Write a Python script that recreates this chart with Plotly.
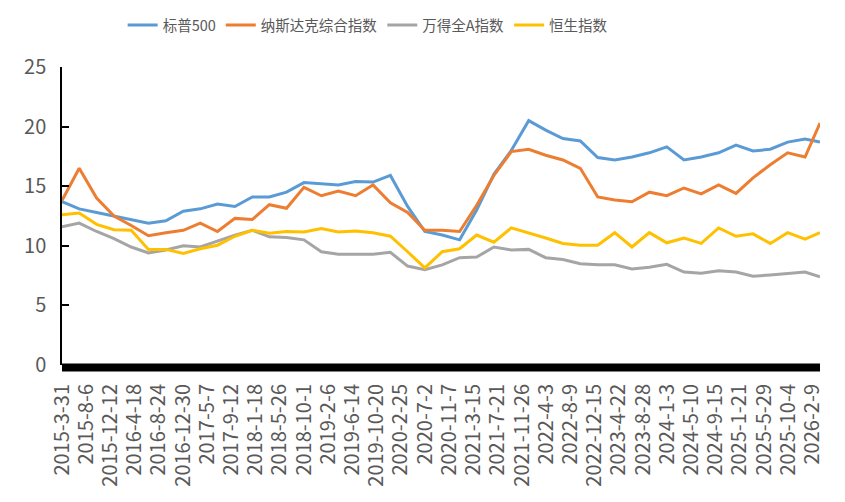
import plotly.graph_objects as go
import pandas as pd

dates = ["2015-03-31", "2015-06-30", "2015-09-30", "2015-12-31", "2016-03-31", "2016-06-30",
         "2016-09-30", "2016-12-31", "2017-03-31", "2017-06-30", "2017-09-30", "2017-12-31",
         "2018-03-31", "2018-06-30", "2018-09-30", "2018-12-31", "2019-03-31", "2019-06-30",
         "2019-09-30", "2019-12-31", "2020-03-31", "2020-06-30", "2020-09-30", "2020-12-31",
         "2021-03-31", "2021-06-30", "2021-09-30", "2021-12-31", "2022-03-31", "2022-06-30",
         "2022-09-30", "2022-12-31", "2023-03-31", "2023-06-30", "2023-09-30", "2023-12-31",
         "2024-03-31", "2024-06-30", "2024-09-30", "2024-12-31", "2025-03-31", "2025-06-30",
         "2025-09-30", "2025-12-31", "2026-03-20"]

sp500 = [13.7, 13.1, 12.8, 12.5, 12.2, 11.9, 12.1, 12.9, 13.1, 13.5, 13.3, 14.1,
         14.1, 14.5, 15.3, 15.2, 15.1, 15.4, 15.35, 15.9, 13.3, 11.2, 10.9, 10.5,
         13.0, 16.0, 18.0, 20.5, 19.7, 19.0, 18.8, 17.4, 17.2, 17.45, 17.8, 18.3,
         17.2, 17.45, 17.8, 18.45, 17.95, 18.1, 18.7, 18.95, 18.7]

nasdaq = [13.8, 16.5, 14.0, 12.5, 11.7, 10.85, 11.1, 11.3, 11.9, 11.2, 12.3, 12.2,
          13.45, 13.15, 14.9, 14.2, 14.6, 14.2, 15.1, 13.6, 12.8, 11.3, 11.3, 11.2,
          13.4, 15.9, 17.9, 18.1, 17.6, 17.2, 16.5, 14.1, 13.85, 13.7, 14.5, 14.2,
          14.85, 14.35, 15.1, 14.4, 15.7, 16.8, 17.8, 17.45, 20.3]

wind_a = [11.6, 11.9, 11.2, 10.6, 9.9, 9.4, 9.65, 10.0, 9.9, 10.4, 10.9, 11.3,
          10.75, 10.7, 10.5, 9.5, 9.3, 9.3, 9.3, 9.45, 8.3, 8.0, 8.4, 9.0,
          9.05, 9.9, 9.65, 9.7, 9.0, 8.85, 8.5, 8.4, 8.4, 8.05, 8.2, 8.45,
          7.8, 7.7, 7.9, 7.8, 7.45, 7.55, 7.7, 7.8, 7.4]

hsi = [12.6, 12.75, 11.8, 11.35, 11.3, 9.7, 9.7, 9.35, 9.75, 10.05, 10.8, 11.3,
       11.05, 11.2, 11.15, 11.45, 11.15, 11.25, 11.1, 10.8, 9.5, 8.15, 9.5, 9.75,
       10.9, 10.3, 11.5, 11.1, 10.65, 10.2, 10.05, 10.05, 11.1, 9.9, 11.1, 10.25,
       10.65, 10.2, 11.5, 10.8, 11.0, 10.2, 11.1, 10.55, 11.1]

tick_labels = ["2015-3-31", "2015-8-6", "2015-12-12", "2016-4-18", "2016-8-24", "2016-12-30",
               "2017-5-7", "2017-9-12", "2018-1-18", "2018-5-26", "2018-10-1", "2019-2-6",
               "2019-6-14", "2019-10-20", "2020-2-25", "2020-7-2", "2020-11-7", "2021-3-15",
               "2021-7-21", "2021-11-26", "2022-4-3", "2022-8-9", "2022-12-15", "2023-4-22",
               "2023-8-28", "2024-1-3", "2024-5-10", "2024-9-15", "2025-1-21", "2025-5-29",
               "2025-10-4", "2026-2-9"]

names = ["标普500", "纳斯达克综合指数", "万得全A指数", "恒生指数"]
colors = ["#5B9BD5", "#ED7D31", "#A5A5A5", "#FFC000"]
series = [sp500, nasdaq, wind_a, hsi]

x = pd.to_datetime(dates)
tickvals = pd.to_datetime(tick_labels, format="%Y-%m-%d")

font_family = "Noto Sans CJK SC, Noto Sans, sans-serif"
txt_color = "#595959"

fig = go.Figure()
for name, col, ys in zip(names, colors, series):
    fig.add_trace(go.Scatter(x=x, y=ys, mode="lines", name=name,
                             line=dict(color=col, width=3)))

# thick black band along the bottom axis
fig.add_shape(type="line", xref="paper", yref="paper", x0=0, x1=1, y0=-0.008, y1=-0.008,
              line=dict(color="black", width=8), layer="above")

fig.update_layout(
    width=845, height=502,
    margin=dict(l=62, r=25, t=67, b=137, autoexpand=False),
    paper_bgcolor="white", plot_bgcolor="white",
    font=dict(family=font_family, color=txt_color),
    showlegend=True,
    legend=dict(orientation="h", x=0.08, xanchor="left", y=1.141, yanchor="middle",
                font=dict(size=14.5, color=txt_color), itemwidth=30,
                bgcolor="rgba(0,0,0,0)"),
    xaxis=dict(type="date", range=[x[0], x[-1]], tickmode="array",
               tickvals=tickvals, ticktext=tick_labels, tickangle=-90,
               showgrid=False, zeroline=False, showline=False, ticks="",
               tickfont=dict(size=20, color=txt_color), ticklabelstandoff=14),
    yaxis=dict(range=[0, 25], dtick=5, showgrid=False, zeroline=False,
               showline=True, linecolor="black", linewidth=1.5,
               ticks="inside", ticklen=7, tickwidth=1.5, tickcolor="black",
               tickfont=dict(size=20, color=txt_color), ticklabelstandoff=10),
)

fig.write_html("out.html")
